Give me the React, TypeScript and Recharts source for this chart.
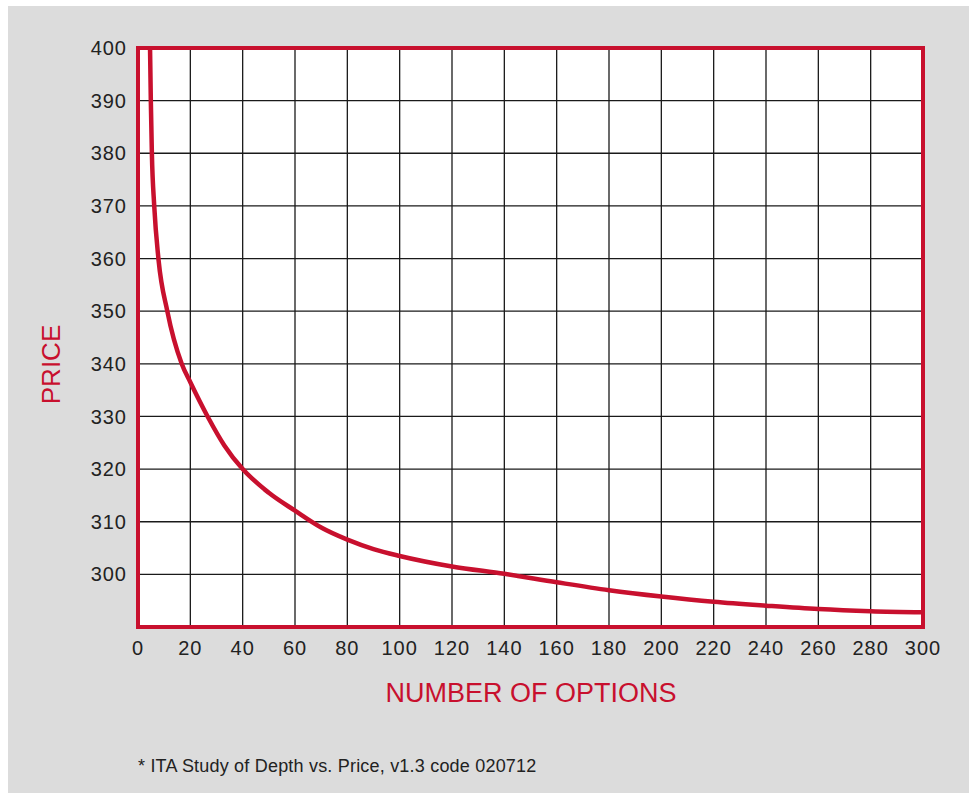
import React from "react";
import {
  LineChart,
  Line,
  XAxis,
  YAxis,
  CartesianGrid,
  ReferenceArea,
} from "recharts";

// Curve, x = number of options, y = price.
const OPTIONS = [4.6, 4.9, 5.3, 6.2, 7.8, 11.2, 16.7, 20, 26.6, 33, 40, 50, 60, 70, 80, 90, 100, 120, 140, 160, 180, 200, 220, 240, 260, 280, 300];
const PRICE = [400, 390, 380, 370, 360, 350, 340, 336.5, 330, 324.5, 320, 315.5, 312.1, 308.9, 306.6, 304.8, 303.5, 301.5, 300.1, 298.5, 297, 295.8, 294.8, 294.05, 293.4, 293, 292.8];

const X_TICKS = [0, 20, 40, 60, 80, 100, 120, 140, 160, 180, 200, 220, 240, 260, 280, 300];
const Y_TICKS = [290, 300, 310, 320, 330, 340, 350, 360, 370, 380, 390, 400];

const RED = "#c8102e";
const BG = "#dcdcdc";
const INK = "#222";
const FONT = '"Liberation Sans", Arial, Helvetica, sans-serif';

const data = OPTIONS.map((x, i) => ({ options: x, price: PRICE[i] }));

const tickStyle = { fill: INK, fontSize: 20, fontFamily: FONT, letterSpacing: 1 };

export default function App() {
  return (
    <div
      style={{
        position: "fixed",
        left: 8,
        top: 6,
        right: 0,
        bottom: 0,
        background: BG,
        fontFamily: FONT,
        overflow: "hidden",
      }}
    >
      <LineChart
        width={961}
        height={720}
        data={data}
        margin={{ top: 42, right: 46, left: 50, bottom: 19 }}
      >
        <CartesianGrid stroke="#1a1a1a" strokeWidth={1.3} fill="#fff" fillOpacity={1} />
        <XAxis
          dataKey="options"
          type="number"
          domain={[0, 300]}
          ticks={X_TICKS}
          interval={0}
          height={80}
          axisLine={false}
          tickLine={false}
          tickSize={0}
          tickMargin={14}
          tick={tickStyle}
          label={{
            content: () => (
              <text
                x={523}
                y={696}
                textAnchor="middle"
                fill={RED}
                fontSize={27}
                fontFamily={FONT}
              >
                NUMBER OF OPTIONS
              </text>
            ),
          }}
        />
        <YAxis
          type="number"
          domain={[290, 400]}
          ticks={Y_TICKS}
          interval={0}
          width={80}
          axisLine={false}
          tickLine={false}
          tickSize={0}
          tickMargin={11}
          tick={tickStyle}
          tickFormatter={(v: number) => (v === 290 ? "" : String(v))}
          label={{
            content: () => (
              <text
                x={42.5}
                y={358.5}
                dy="0.36em"
                textAnchor="middle"
                transform="rotate(-90, 42.5, 358.5)"
                fill={RED}
                fontSize={26}
                fontFamily={FONT}
              >
                PRICE
              </text>
            ),
          }}
        />
        <ReferenceArea
          x1={0}
          x2={300}
          y1={290}
          y2={400}
          fill="none"
          stroke={RED}
          strokeWidth={4}
          ifOverflow="visible"
        />
        <Line
          type="monotone"
          dataKey="price"
          stroke={RED}
          strokeWidth={4.5}
          dot={false}
          isAnimationActive={false}
        />
      </LineChart>
      <div
        style={{
          position: "absolute",
          left: 130,
          top: 751,
          fontSize: 18,
          lineHeight: 1,
          letterSpacing: 0.2,
          color: INK,
        }}
      >
        * ITA Study of Depth vs. Price, v1.3 code 020712
      </div>
    </div>
  );
}
